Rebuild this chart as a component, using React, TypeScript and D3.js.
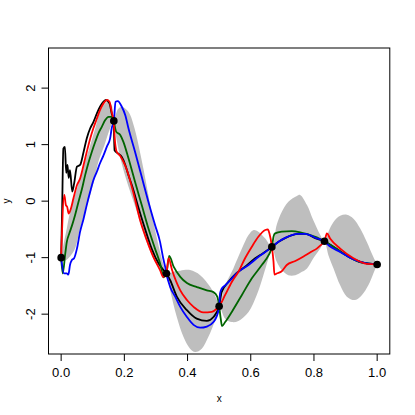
import React from 'react';
import * as d3 from 'd3';

// observed points
const obsX = [0, 0.1667, 0.3333, 0.5, 0.6667, 0.8333, 1];
const obsY = [-1.0, 1.42, -1.28, -1.86, -0.81, -0.71, -1.12];

// grey band, upper and lower edge
const bandUpper: [number, number][] = [
  [0.000, -1.00], [0.007, -0.78], [0.018, -0.48], [0.028, -0.19], [0.044, 0.11], [0.060, 0.40],
  [0.076, 0.70], [0.092, 0.99], [0.108, 1.29], [0.123, 1.58], [0.139, 1.73], [0.150, 1.76],
  [0.160, 1.70], [0.167, 1.42], [0.179, 1.62], [0.192, 1.67], [0.213, 1.58], [0.229, 1.35],
  [0.245, 0.99], [0.260, 0.58], [0.276, 0.11], [0.292, -0.37], [0.308, -0.78], [0.324, -1.13],
  [0.333, -1.28], [0.345, -1.27], [0.361, -1.24], [0.377, -1.23], [0.408, -1.22], [0.440, -1.31],
  [0.472, -1.52], [0.493, -1.75], [0.500, -1.86], [0.519, -1.49], [0.545, -1.19], [0.572, -0.84],
  [0.593, -0.60], [0.609, -0.51], [0.624, -0.54], [0.646, -0.66], [0.667, -0.81], [0.682, -0.42],
  [0.698, -0.19], [0.719, -0.01], [0.746, 0.09], [0.756, 0.11], [0.778, -0.07], [0.798, -0.34],
  [0.820, -0.60], [0.833, -0.72], [0.846, -0.54], [0.862, -0.37], [0.883, -0.26], [0.904, -0.24],
  [0.925, -0.31], [0.946, -0.48], [0.967, -0.72], [0.988, -0.99], [1.000, -1.12],
];
const bandLower: [number, number][] = [
  [0.000, -1.00], [0.013, -1.05], [0.028, -0.98], [0.044, -0.84], [0.060, -0.48], [0.076, -0.19],
  [0.092, 0.11], [0.106, 0.40], [0.118, 0.70], [0.137, 0.99], [0.155, 1.29], [0.167, 1.42],
  [0.172, 1.20], [0.179, 0.99], [0.190, 0.70], [0.205, 0.40], [0.222, 0.11], [0.240, -0.19],
  [0.255, -0.48], [0.274, -0.78], [0.297, -1.07], [0.316, -1.22], [0.333, -1.28], [0.345, -1.58],
  [0.366, -2.05], [0.387, -2.40], [0.408, -2.61], [0.424, -2.67], [0.445, -2.61], [0.466, -2.40],
  [0.487, -2.11], [0.500, -1.86], [0.519, -2.08], [0.540, -2.14], [0.561, -2.12], [0.593, -1.96],
  [0.619, -1.66], [0.640, -1.31], [0.656, -1.01], [0.667, -0.81], [0.682, -1.07], [0.698, -1.22],
  [0.719, -1.31], [0.741, -1.31], [0.762, -1.25], [0.778, -1.19], [0.798, -1.01], [0.820, -0.84],
  [0.833, -0.72], [0.846, -0.96], [0.862, -1.19], [0.883, -1.49], [0.904, -1.69], [0.930, -1.75],
  [0.952, -1.66], [0.972, -1.49], [0.988, -1.28], [1.000, -1.12],
];

const blackCurve: [number, number][] = [
  [0, -1.00], [0.003, -0.20], [0.007, 0.93], [0.012, 0.96], [0.016, 0.50], [0.020, 0.64],
  [0.024, 0.41], [0.028, 0.55], [0.035, 0.17], [0.041, 0.31], [0.050, 0.61], [0.060, 0.64],
  [0.071, 0.87], [0.081, 1.11], [0.092, 1.29], [0.102, 1.40], [0.113, 1.55], [0.123, 1.67],
  [0.134, 1.76], [0.142, 1.79], [0.153, 1.73], [0.160, 1.55], [0.166, 1.42], [0.169, 0.90],
  [0.181, 0.84], [0.192, 0.78], [0.203, 0.64], [0.213, 0.46], [0.224, 0.28], [0.245, -0.12],
  [0.266, -0.50], [0.287, -0.85], [0.308, -1.10], [0.324, -1.22], [0.333, -1.28], [0.345, -1.40],
  [0.366, -1.69], [0.398, -1.93], [0.429, -2.08], [0.461, -2.12], [0.482, -2.05], [0.500, -1.86],
  [0.508, -1.61], [0.529, -1.43], [0.554, -1.28], [0.582, -1.16], [0.614, -1.01], [0.639, -0.92],
  [0.667, -0.81], [0.688, -0.72], [0.710, -0.65], [0.731, -0.60], [0.752, -0.58], [0.773, -0.58],
  [0.806, -0.66], [0.833, -0.71], [0.870, -0.84], [0.912, -0.99], [0.955, -1.09], [1.000, -1.12],
];

const redCurve: [number, number][] = [
  [0, -1.00], [0.010, 0.11], [0.015, -0.07], [0.019, -0.10], [0.024, -0.22], [0.031, -0.13],
  [0.039, 0.05], [0.050, 0.28], [0.060, 0.40], [0.071, 0.64], [0.081, 0.87], [0.092, 1.11],
  [0.102, 1.29], [0.113, 1.46], [0.123, 1.61], [0.134, 1.73], [0.145, 1.79], [0.153, 1.76],
  [0.160, 1.58], [0.166, 1.40], [0.171, 1.02], [0.176, 0.87], [0.187, 0.80], [0.208, 0.55],
  [0.229, 0.14], [0.250, -0.34], [0.271, -0.69], [0.292, -0.99], [0.313, -1.22], [0.323, -1.34],
  [0.333, -1.28], [0.340, -1.01], [0.351, -1.22], [0.377, -1.58], [0.398, -1.75], [0.419, -1.87],
  [0.450, -1.97], [0.477, -1.96], [0.493, -1.90], [0.500, -1.86], [0.519, -1.66], [0.540, -1.43],
  [0.561, -1.25], [0.582, -1.01], [0.603, -0.81], [0.624, -0.63], [0.646, -0.51], [0.654, -0.50],
  [0.659, -0.57], [0.667, -0.81], [0.672, -1.07], [0.675, -1.30], [0.682, -1.28], [0.698, -1.24],
  [0.714, -1.13], [0.741, -1.06], [0.767, -0.98], [0.790, -0.90], [0.809, -0.84], [0.825, -0.76],
  [0.833, -0.72], [0.841, -0.57], [0.851, -0.66], [0.883, -0.84], [0.925, -1.01], [0.967, -1.11],
  [1.000, -1.12],
];

const greenCurve: [number, number][] = [
  [0, -1.00], [0.005, -1.28], [0.013, -0.93], [0.018, -0.72], [0.026, -0.57], [0.035, -0.42],
  [0.044, -0.25], [0.055, -0.01], [0.066, 0.22], [0.076, 0.46], [0.086, 0.67], [0.097, 0.87],
  [0.108, 1.05], [0.118, 1.20], [0.129, 1.32], [0.139, 1.43], [0.150, 1.49], [0.160, 1.49],
  [0.166, 1.42], [0.174, 1.23], [0.187, 1.17], [0.197, 1.05], [0.213, 0.76], [0.234, 0.34],
  [0.255, -0.07], [0.276, -0.48], [0.297, -0.84], [0.316, -1.16], [0.324, -1.35], [0.330, -1.30],
  [0.333, -1.28], [0.342, -0.97], [0.356, -1.16], [0.377, -1.34], [0.398, -1.45], [0.430, -1.52],
  [0.461, -1.58], [0.482, -1.61], [0.494, -1.69], [0.500, -1.86], [0.505, -2.08], [0.509, -2.21],
  [0.519, -2.14], [0.540, -1.96], [0.572, -1.66], [0.603, -1.37], [0.635, -1.13], [0.656, -0.96],
  [0.667, -0.81], [0.672, -0.63], [0.677, -0.57], [0.698, -0.54], [0.730, -0.53], [0.762, -0.56],
  [0.809, -0.64], [0.833, -0.71], [0.870, -0.84], [0.912, -0.99], [0.955, -1.09], [1.000, -1.12],
];

const blueCurve: [number, number][] = [
  [0, -1.00], [0.009, -1.28], [0.018, -1.28], [0.023, -1.30], [0.028, -1.13], [0.034, -1.04],
  [0.041, -1.01], [0.050, -0.84], [0.060, -0.54], [0.071, -0.31], [0.081, -0.07], [0.092, 0.17],
  [0.102, 0.37], [0.113, 0.52], [0.123, 0.67], [0.134, 0.81], [0.145, 0.97], [0.155, 1.11],
  [0.160, 1.29], [0.167, 1.42], [0.172, 1.76], [0.179, 1.77], [0.192, 1.67], [0.203, 1.52],
  [0.213, 1.29], [0.234, 0.87], [0.255, 0.43], [0.276, -0.01], [0.297, -0.42], [0.313, -0.72],
  [0.323, -1.01], [0.329, -1.16], [0.333, -1.28], [0.345, -1.52], [0.361, -1.69], [0.377, -1.87],
  [0.398, -2.05], [0.419, -2.19], [0.440, -2.24], [0.461, -2.22], [0.482, -2.14], [0.498, -1.93],
  [0.500, -1.86], [0.503, -1.63], [0.508, -1.55], [0.519, -1.49], [0.540, -1.37], [0.561, -1.25],
  [0.593, -1.13], [0.624, -0.99], [0.646, -0.90], [0.667, -0.81], [0.688, -0.72], [0.709, -0.65],
  [0.730, -0.60], [0.751, -0.58], [0.772, -0.58], [0.809, -0.66], [0.833, -0.71], [0.846, -0.78],
  [0.883, -0.90], [0.925, -1.03], [0.967, -1.10], [1.000, -1.12],
];

const xTicks = [0, 0.2, 0.4, 0.6, 0.8, 1.0];
const yTicks = [-2, -1, 0, 1, 2];

const W = 415, H = 415;
const box = { left: 48.5, right: 389.8, top: 48, bottom: 354 };
const font = '"Liberation Sans", Arial, Helvetica, sans-serif';

export default function App() {
  const x = d3.scaleLinear().domain([-0.04, 1.04]).range([box.left, box.right]);
  const y = d3.scaleLinear().domain([-2.705, 2.71]).range([box.bottom, box.top]);

  const edge = d3.line<[number, number]>()
    .x(d => x(d[0]))
    .y(d => y(d[1]))
    .curve(d3.curveCatmullRom.alpha(0.5));
  const upperPath = edge(bandUpper) || '';
  const lowerPath = (edge(bandLower.slice().reverse()) || '').replace(/^M/, 'L');
  const bandPath = upperPath + lowerPath + 'Z';

  const line = d3.line<[number, number]>()
    .x(d => x(d[0]))
    .y(d => y(d[1]))
    .curve(d3.curveMonotoneX);

  const curves: [string, [number, number][]][] = [
    ['#000000', blackCurve],
    ['#006400', greenCurve],
    ['#0000ff', blueCurve],
    ['#ff0000', redCurve],
  ];

  return (
    <svg width={W} height={H} style={{ position: 'absolute', left: 0, top: 0, background: '#fff' }}
      fontFamily={font}>
      <path d={bandPath} fill="#bebebe" stroke="none" />
      {curves.map(([c, d], i) => (
        <path key={i} d={line(d) || ''} fill="none" stroke={c} strokeWidth={1.8} strokeLinejoin="round" />
      ))}
      {obsX.map((v, i) => (
        <circle key={i} cx={x(v)} cy={y(obsY[i])} r={3.8} fill="#000" />
      ))}
      <rect x={box.left} y={box.top} width={box.right - box.left} height={box.bottom - box.top}
        fill="none" stroke="#000" strokeWidth={1} />
      {xTicks.map(t => (
        <g key={t}>
          <line x1={x(t)} x2={x(t)} y1={box.bottom} y2={box.bottom + 7} stroke="#000" />
          <text x={x(t)} y={376.5} fontSize={13} textAnchor="middle">{t.toFixed(1)}</text>
        </g>
      ))}
      {yTicks.map(t => (
        <g key={t}>
          <line x1={box.left - 7} x2={box.left} y1={y(t)} y2={y(t)} stroke="#000" />
          <text transform={`translate(35,${y(t)}) rotate(-90)`} fontSize={13} textAnchor="middle">{String(t)}</text>
        </g>
      ))}
      <text x={(box.left + box.right) / 2} y={402} fontSize={10} textAnchor="middle">x</text>
      <text transform={`translate(10,${(box.top + box.bottom) / 2}) rotate(-90)`} fontSize={10} textAnchor="middle">y</text>
    </svg>
  );
}
